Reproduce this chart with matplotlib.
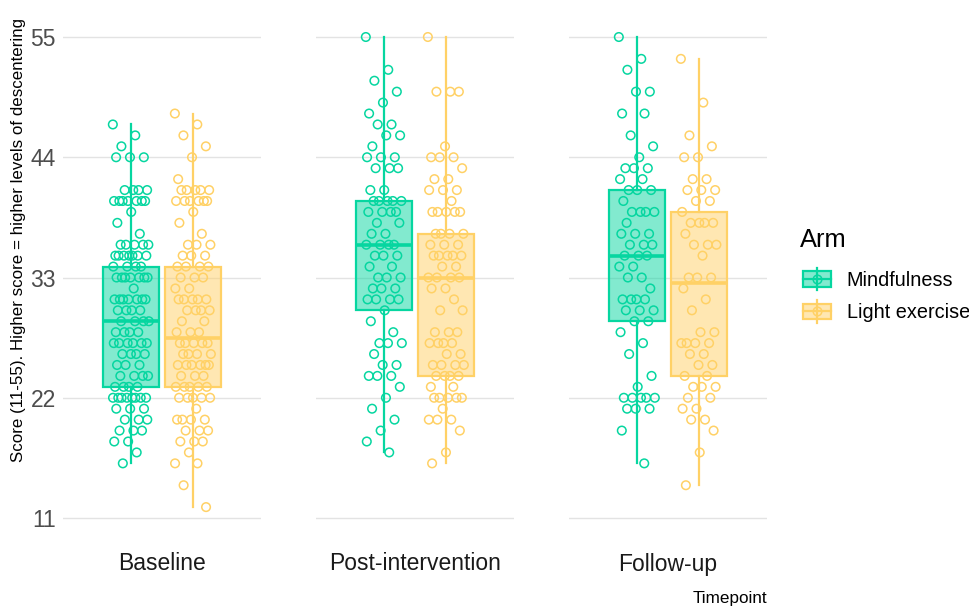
import matplotlib
matplotlib.use("Agg")
import matplotlib.pyplot as plt
from matplotlib.legend_handler import HandlerBase
from matplotlib.patches import Rectangle
from matplotlib.lines import Line2D
import numpy as np

plt.rcParams['font.family'] = ['Liberation Sans', 'DejaVu Sans']

timepoints = ["Baseline", "Post-intervention", "Follow-up"]
arms = ["Mindfulness", "Light exercise"]
arm_colors = ["#06D6A0", "#FFD166"]
y_ticks = [11, 22, 33, 44, 55]

# Boxplot summary statistics
q1_mind = [23, 30, 29]
med_mind = [29, 36, 35]
q3_mind = [34, 40, 41]
lo_mind = [16, 17, 16]
hi_mind = [47, 55, 55]

q1_light = [23, 24, 24]
med_light = [27.5, 33, 32.5]
q3_light = [34, 37, 39]
lo_light = [12, 16, 14]
hi_light = [48, 55, 53]

# Individual scores (jittered points)
base_mind = [47, 46, 45, 44, 44, 44, 41, 41, 41, 41,
             40, 40, 40, 40, 40, 40, 40, 39, 38, 37,
             36, 36, 36, 36, 36, 35, 35, 35, 35, 35, 35, 35,
             34, 34, 34, 34, 33, 33, 33, 33, 33, 33, 33, 32,
             31, 31, 31, 31, 31, 31, 31, 30, 30, 30, 30,
             29, 29, 29, 29, 28, 28, 28, 28, 27, 27, 27, 27, 27, 27,
             26, 26, 26, 26, 25, 25, 25, 24, 24, 24, 24, 23, 23, 23, 23,
             22, 22, 22, 22, 22, 22, 22, 22, 21, 21, 21, 20, 20, 20,
             19, 19, 19, 18, 18, 17, 16]
base_light = [48, 47, 46, 45, 44, 42, 41, 41, 41, 41, 41,
              40, 40, 40, 40, 40, 40, 39, 38, 37, 36, 36, 36,
              35, 35, 35, 34, 34, 34, 34, 33, 33, 33, 32, 32,
              31, 31, 31, 31, 31, 30, 30, 30, 30, 29, 29, 28, 28, 28,
              27, 27, 27, 27, 27, 26, 26, 26, 26, 25, 25, 25, 25, 25, 25,
              24, 24, 24, 23, 23, 23, 23, 23, 22, 22, 22, 22, 22, 21,
              20, 20, 20, 20, 19, 19, 19, 18, 18, 18, 17, 16, 16, 14, 12]
post_mind = [55, 52, 51, 50, 49, 48, 47, 47, 46, 46, 45, 44, 44, 44,
             43, 43, 43, 41, 41, 40, 40, 40, 40, 40, 39, 39, 39, 39,
             38, 38, 37, 37, 36, 36, 36, 36, 35, 35, 35, 34, 34,
             33, 33, 33, 32, 32, 32, 31, 31, 31, 31, 30, 29, 28,
             27, 27, 27, 26, 25, 25, 24, 24, 24, 23, 22, 21, 20, 19, 18, 17]
post_light = [55, 50, 50, 50, 45, 44, 44, 44, 43, 42, 42, 41, 41, 41, 40,
              39, 39, 39, 39, 39, 37, 37, 37, 37, 36, 36, 36,
              35, 35, 35, 35, 35, 34, 34, 33, 33, 33, 33, 32, 32, 31, 30, 30,
              28, 28, 28, 27, 27, 27, 27, 26, 26, 25, 25, 25, 25,
              24, 24, 24, 24, 23, 23, 22, 22, 22, 22, 22, 21, 20, 20, 20,
              19, 17, 16]
follow_mind = [55, 53, 52, 50, 50, 48, 48, 46, 45, 44, 43, 43, 43, 42, 42,
               41, 41, 41, 40, 39, 39, 39, 39, 38, 37, 37, 37, 36, 36, 36,
               35, 35, 35, 34, 34, 33, 33, 32, 31, 31, 31, 31, 30, 30, 30,
               29, 29, 28, 27, 26, 24, 23, 22, 22, 22, 22, 22, 21, 21, 21,
               19, 16]
follow_light = [53, 49, 46, 45, 44, 44, 42, 42, 41, 41, 41, 40, 40, 39,
                38, 38, 38, 38, 37, 36, 36, 36, 35, 33, 33, 33, 32, 31, 30,
                28, 28, 27, 27, 27, 27, 26, 26, 25, 25, 24, 24, 23, 23, 23,
                22, 22, 21, 21, 20, 20, 19, 17, 14]

scores = {
    ("Baseline", "Mindfulness"): base_mind,
    ("Baseline", "Light exercise"): base_light,
    ("Post-intervention", "Mindfulness"): post_mind,
    ("Post-intervention", "Light exercise"): post_light,
    ("Follow-up", "Mindfulness"): follow_mind,
    ("Follow-up", "Light exercise"): follow_light,
}
stats = {
    "Mindfulness": (q1_mind, med_mind, q3_mind, lo_mind, hi_mind),
    "Light exercise": (q1_light, med_light, q3_light, lo_light, hi_light),
}

W, H = 969, 606
fig = plt.figure(figsize=(W / 100, H / 100), dpi=100)

panel_left = [63, 316, 569]
panel_w = 198
top_px, bot_px = 13.5, 530.6

offsets = [-0.188, 0.188]
box_w = 0.34
jit = 0.11
golden = 0.6180339887

axes = []
for ti, tp in enumerate(timepoints):
    ax = fig.add_axes([panel_left[ti] / W, 1 - bot_px / H, panel_w / W, (bot_px - top_px) / H])
    axes.append(ax)
    for ai, arm in enumerate(arms):
        col = arm_colors[ai]
        q1, med, q3, lo, hi = stats[arm]
        st = [dict(med=med[ti], q1=q1[ti], q3=q3[ti], whislo=lo[ti], whishi=hi[ti], fliers=[])]
        pos = 1 + offsets[ai]
        ax.bxp(st, positions=[pos], widths=box_w, patch_artist=True, showcaps=False,
               showfliers=False,
               boxprops=dict(facecolor=matplotlib.colors.to_rgba(col, 0.5), edgecolor=col, linewidth=1.6),
               whiskerprops=dict(color=col, linewidth=1.6),
               medianprops=dict(color=col, linewidth=2.6, solid_capstyle='butt'),
               zorder=2)
        vals = np.array(scores[(tp, arm)], dtype=float)
        k = np.arange(len(vals))
        xj = pos + ((k * golden) % 1 - 0.5) * 2 * jit
        ax.scatter(xj, vals, s=38, facecolors='none', edgecolors=col, linewidths=1.1, zorder=3)
    ax.set_xlim(0.4, 1.6)
    ax.set_ylim(9.85, 57.15)
    ax.set_yticks(y_ticks)
    ax.set_xticks([])
    ax.grid(axis='y', color='#e3e3e3', linewidth=1.0)
    ax.set_axisbelow(True)
    for s in ax.spines.values():
        s.set_visible(False)
    ax.tick_params(axis='y', length=0, labelsize=16.5, labelcolor='#4d4d4d', pad=5)
    if ti > 0:
        ax.set_yticklabels([])
    fig.text((panel_left[ti] + panel_w / 2) / W, 1 - 564 / H, tp, ha='center', va='center',
             fontsize=16.5, color='#1a1a1a')

fig.text(19 / W, 1 - 240 / H, "Score (11-55). Higher score = higher levels of descentering",
         rotation=90, ha='center', va='center', fontsize=12.2, color='black')
fig.text(767 / W, 1 - 598 / H, "Timepoint", ha='right', va='center', fontsize=12.3, color='black')
fig.text(800 / W, 1 - 240 / H, "Arm", ha='left', va='center', fontsize=18.4, color='black')


class BoxKeyHandler(HandlerBase):
    def __init__(self, color):
        super().__init__()
        self.color = color

    def create_artists(self, legend, orig_handle, xdescent, ydescent, width, height, fontsize, trans):
        x0, y0 = -xdescent, -ydescent
        cx, cy = x0 + width / 2, y0 + height / 2
        rect = Rectangle((x0, y0 + height * 0.15), width, height * 0.7,
                         facecolor=matplotlib.colors.to_rgba(self.color, 0.5),
                         edgecolor=self.color, linewidth=1.6, transform=trans)
        vline = Line2D([cx, cx], [y0, y0 + height], color=self.color, linewidth=1.6, transform=trans)
        hline = Line2D([x0, x0 + width], [cy, cy], color=self.color, linewidth=1.6, transform=trans)
        circ = Line2D([cx], [cy], marker='o', markersize=6.2, markerfacecolor='none',
                      markeredgecolor=self.color, markeredgewidth=1.1, linestyle='none', transform=trans)
        return [rect, vline, hline, circ]


handles = [Rectangle((0, 0), 1, 1) for _ in arms]
handler_map = {h: BoxKeyHandler(c) for h, c in zip(handles, arm_colors)}
leg = fig.legend(handles, arms, handler_map=handler_map, loc='upper left',
                 bbox_to_anchor=(803 / W, 1 - 268 / H), frameon=False, fontsize=14.3,
                 borderpad=0, borderaxespad=0, handlelength=1.4, handleheight=1.35,
                 handletextpad=0.8, labelspacing=0.5)

fig.savefig("out.png", dpi=100)
